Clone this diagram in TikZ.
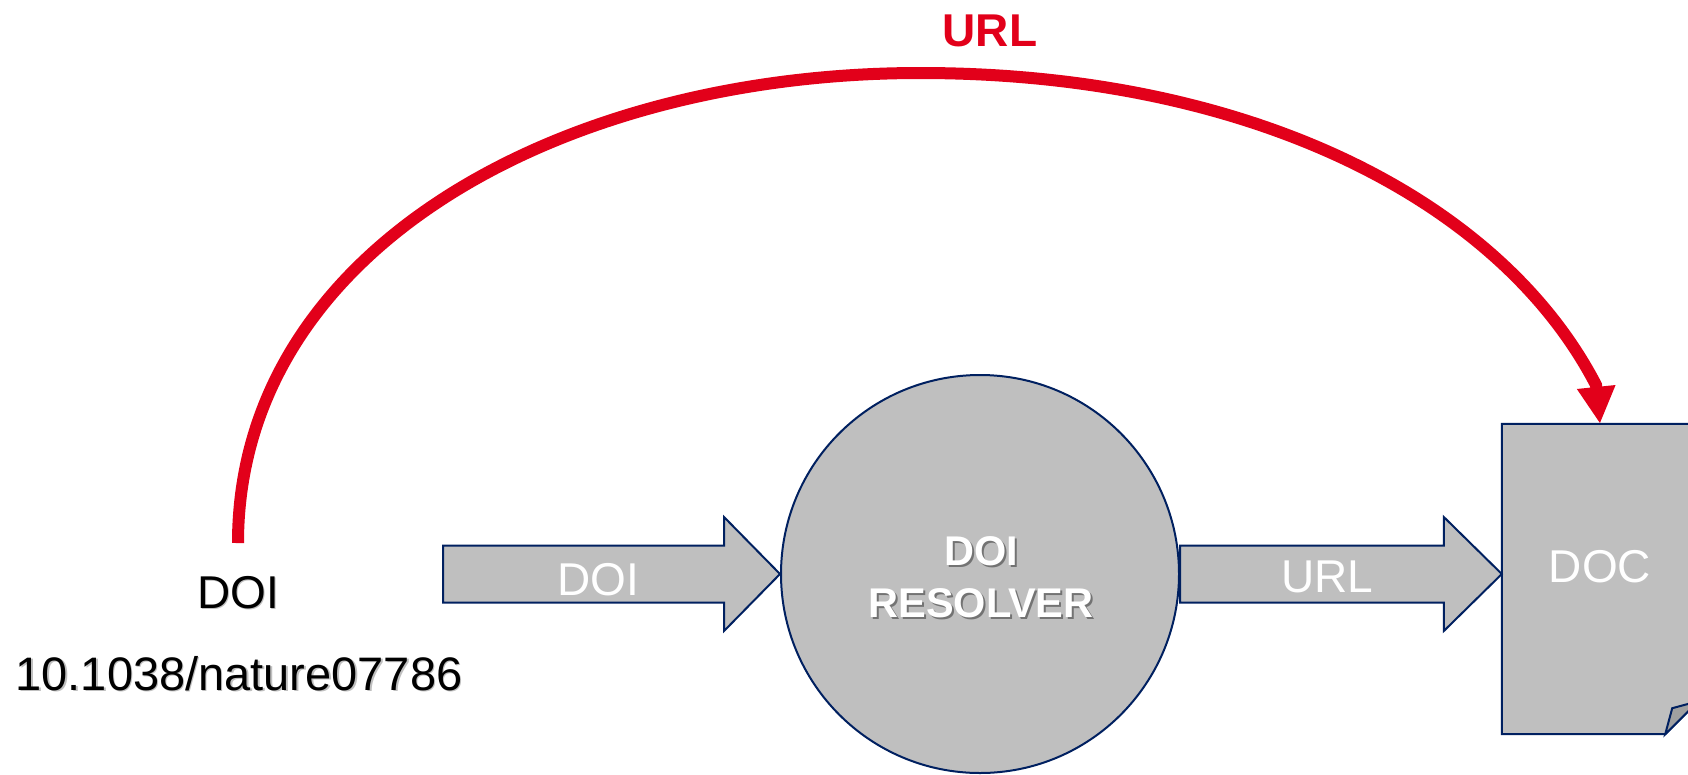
\documentclass[tikz,border=0pt]{standalone}
\usepackage{fontspec}
\setmainfont{Liberation Sans}
\usetikzlibrary{arrows.meta,calc}
\definecolor{navy}{RGB}{0,32,96}
\definecolor{boxgray}{RGB}{191,191,191}
\definecolor{flapgray}{RGB}{160,160,160}
\definecolor{urlred}{RGB}{226,0,26}
\newcommand\shtext[3]{\makebox[0pt][l]{\hspace*{#1}\raisebox{-#1}{\textcolor{#2}{#3}}}#3}
\begin{document}
\begin{tikzpicture}[x=1pt,y=-1pt,
  shapeline/.style={draw=navy,fill=boxgray,line width=2pt,line join=miter},
  blockarrow/.style={shapeline},
  wlabel/.style={text=white,font=\fontsize{46}{55}\selectfont,inner sep=0pt,anchor=base},
  klabel/.style={text=black,font=\fontsize{46}{55}\selectfont,inner sep=0pt,anchor=base},
  redlabel/.style={text=urlred,font=\bfseries\fontsize{46}{55}\selectfont,inner sep=0pt,anchor=base},
  redarc/.style={draw=urlred,line width=12pt,-{Triangle[width=36pt,length=37pt]}},
]
\clip (0,0) rectangle (1688,774);
\fill[white] (0,0) rectangle (1688,774);

% resolver circle
\node[circle,shapeline,minimum size=398pt,inner sep=0pt] (res) at (980,574) {};
\node[anchor=base,inner sep=0pt,text=white,font=\bfseries\fontsize{41.5}{52}\selectfont] (reslbl) at (981,565)
  {\begin{tabular}[t]{@{}c@{}}\shtext{2pt}{black!55}{DOI}\\\shtext{2pt}{black!55}{RESOLVER}\end{tabular}};

% document
\node[minimum width=196pt,minimum height=310pt,inner sep=0pt] (doc) at (1600,579) {};
\draw[shapeline] (doc.north west) -- (doc.north east) -- ($(doc.south east)+(0,-33)$)
  -- ($(doc.south east)+(-33,0)$) -- (doc.south west) -- cycle;
\draw[shapeline,fill=flapgray] ($(doc.south east)+(-33,0)$) -- ($(doc.south east)+(-26,-26)$)
  -- ($(doc.south east)+(0,-33)$) -- cycle;
\node[wlabel] (doclbl) at (1600,582) {DOC};

% left block arrow
\draw[blockarrow] ($(res.west)+(-337,-28.5)$) -- ($(res.west)+(-56,-28.5)$) -- ($(res.west)+(-56,-57)$)
  -- (res.west) -- ($(res.west)+(-56,57)$) -- ($(res.west)+(-56,28.5)$) -- ($(res.west)+(-337,28.5)$) -- cycle;
\node[wlabel] (doiarrow) at (598,595) {DOI};

% right block arrow
\coordinate (rt) at (doc.west |- res.east);
\draw[blockarrow] ($(res.east)+(0,-28.5)$) -- ($(rt)+(-58,-28.5)$) -- ($(rt)+(-58,-57)$)
  -- (rt) -- ($(rt)+(-58,57)$) -- ($(rt)+(-58,28.5)$) -- ($(res.east)+(0,28.5)$) -- cycle;
\node[wlabel] (urlarrow) at (1327,592) {URL};

% left labels
\node[klabel] (doilbl) at (238,608) {\shtext{1.5pt}{black!25}{DOI}};
\node[klabel,font=\fontsize{47}{56}\selectfont] (numlbl) at (239,690) {\shtext{1.5pt}{black!25}{10.1038/nature07786}};

% red arc
\coordinate (arcstart) at (238,543);
\draw[redarc] (arcstart) .. controls (238,250) and (560,73) .. (920,73)
  .. controls (1250,73) and (1500,200) .. (1596,385) -- (doc.north);
\node[redlabel] (urltop) at (990,46) {URL};
\end{tikzpicture}
\end{document}
